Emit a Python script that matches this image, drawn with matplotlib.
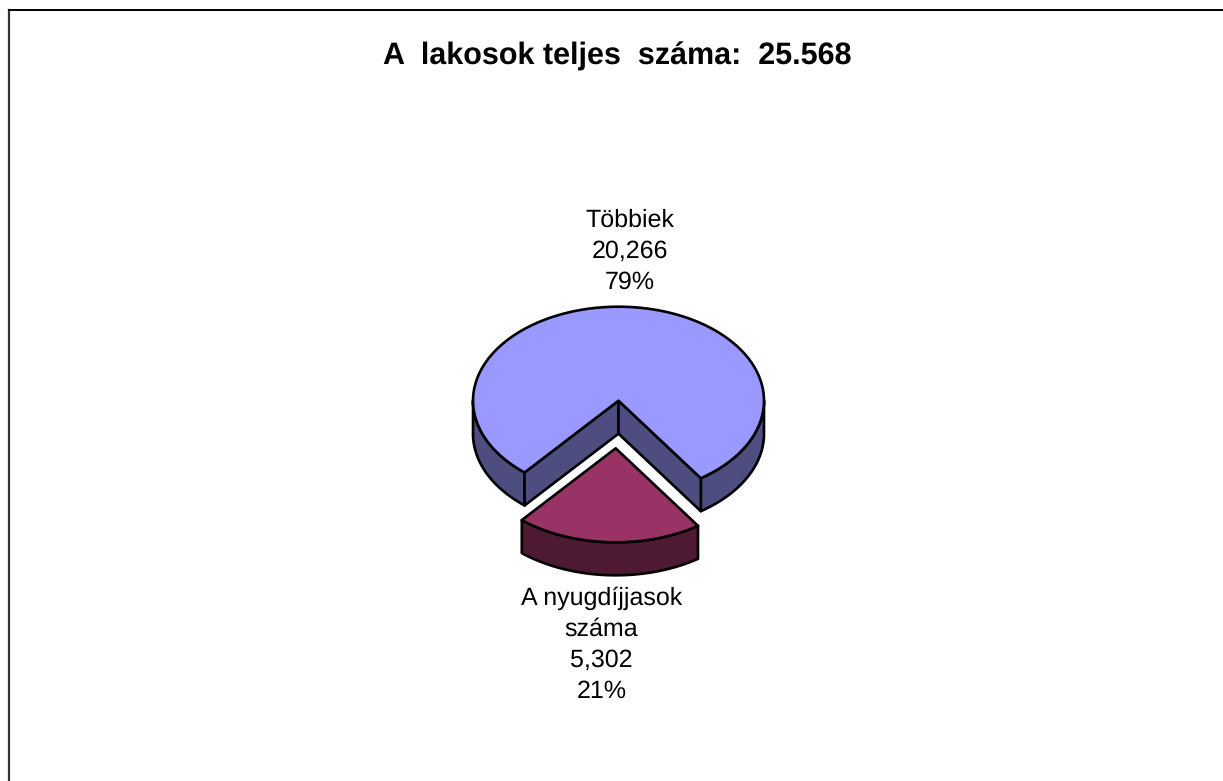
import numpy as np
import matplotlib
matplotlib.use('Agg')
import matplotlib.pyplot as plt
from matplotlib.patches import Polygon

plt.rcParams['font.family'] = ['Liberation Sans', 'DejaVu Sans']
plt.rcParams['text.hinting'] = 'none'

title = 'A  lakosok teljes  száma:  25.568'
names = ['Többiek', 'A nyugdíjjasok\nszáma']
values = [20266, 5302]
value_labels = ['20,266', '5,302']
percent_labels = ['79%', '21%']
top_colors = ['#9999FF', '#993366']
side_colors = ['#4D4D80', '#4D1933']

# pie geometry in pixels of the picture
cx, cy = 618.5, 400.7
rx, ry = 145.5, 94
depth = 33
explode = (-2.8, 47.6)
left_edge = 40.2  # degrees from straight down, towards the left


def rim(a1, a2, ox=0, oy=0, n=120):
    t = np.radians(np.linspace(a1, a2, n))
    return np.column_stack((cx + ox - rx * np.sin(t), cy + oy + ry * np.cos(t)))


def shape(ax, pts, color):
    ax.add_patch(Polygon(pts, closed=True, facecolor=color, edgecolor='black',
                         linewidth=1.9, joinstyle='round'))


def drop(pts):
    return pts + np.array([0, depth])


span = 360 * values[1] / sum(values)
right_edge = span - left_edge

fig = plt.figure(figsize=(12.23, 7.81), dpi=100)
ax = fig.add_axes([0, 0, 1, 1])
ax.set_xlim(0, 1223)
ax.set_ylim(781, 0)
ax.axis('off')

# chart frame, only left and top are inside the picture
ax.plot([8.5, 8.5], [781, 9.5], color='#333333', linewidth=1.6)
ax.plot([8.5, 1223], [9.5, 9.5], color='black', linewidth=1.4)

# big slice, walls first
center = np.array([[cx, cy]])
left_part = rim(left_edge, 90)
right_part = rim(-90, -right_edge)
shape(ax, np.vstack((left_part, drop(left_part)[::-1])), side_colors[0])
shape(ax, np.vstack((right_part, drop(right_part)[::-1])), side_colors[0])
corner_l = rim(left_edge, left_edge, n=1)
corner_r = rim(-right_edge, -right_edge, n=1)
for corner in (corner_l, corner_r):
    wall = np.vstack((center, corner, drop(corner), drop(center)))
    shape(ax, wall, side_colors[0])
shape(ax, np.vstack((center, rim(left_edge, 360 - right_edge))), top_colors[0])

# pulled out slice
ox, oy = explode
front = rim(left_edge, -right_edge, ox, oy)
shape(ax, np.vstack((front, drop(front)[::-1])), side_colors[1])
shape(ax, np.vstack(([[cx + ox, cy + oy]], front)), top_colors[1])

ax.text(617, 56.5, title, ha='center', va='center', fontsize=22, fontweight='bold', color='black')
ax.text(630, 251, names[0] + '\n' + value_labels[0] + '\n' + percent_labels[0],
        ha='center', va='center', fontsize=18, linespacing=1.42, color='black')
ax.text(601.5, 645, names[1] + '\n' + value_labels[1] + '\n' + percent_labels[1],
        ha='center', va='center', fontsize=18, linespacing=1.42, color='black')

fig.savefig('out.png', dpi=100, facecolor='white')
